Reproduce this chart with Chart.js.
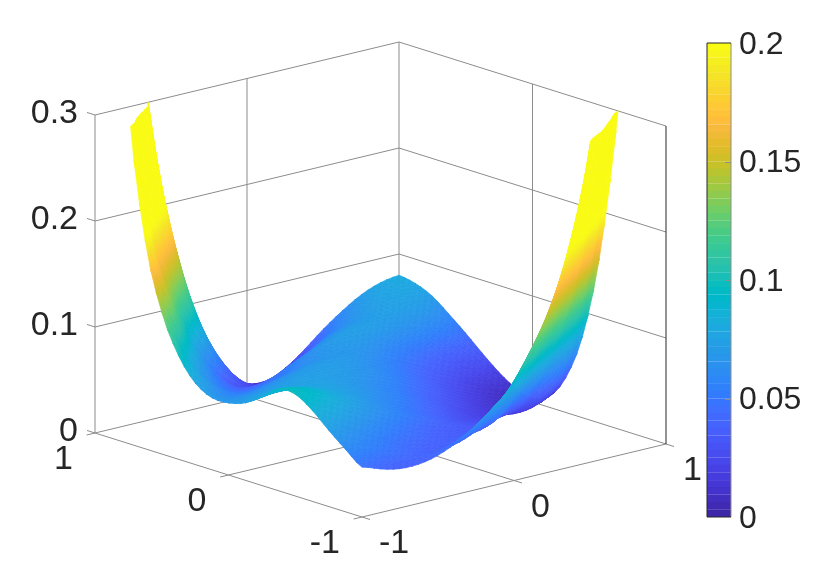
<!DOCTYPE html>
<html>
<head>
<meta charset="utf-8">
<title>Surface</title>
<script src="https://cdn.jsdelivr.net/npm/chart.js@4"></script>
<style>
  html, body { margin: 0; background: #fff; }
  #wrap { position: relative; width: 830px; height: 581px; overflow: hidden; }
  canvas { position: absolute; top: 0; }
</style>
</head>
<body>
<div id="wrap">
  <canvas id="surface" width="830" height="581" style="left:0"></canvas>
  <canvas id="colorbar" width="130" height="581" style="left:700px"></canvas>
</div>
<script>
// ================= Data =================
const xGrid = [-1,-.875,-.75,-.625,-.5,-.375,-.25,-.125,0,.125,.25,.375,.5,.625,.75,.875,1];
const yGrid = [-1,-.875,-.75,-.625,-.5,-.375,-.25,-.125,0,.125,.25,.375,.5,.625,.75,.875,1];
// one row per yGrid value, one column per xGrid value
const zRows = [
  [.047,.041,.037,.037,.041,.049,.060,.075,.092,.122,.159,.213,.295,.42,.55,.75,.95],
  [.059,.054,.049,.044,.039,.037,.040,.048,.062,.080,.102,.139,.187,.262,.355,.48,.62],
  [.072,.065,.058,.051,.045,.040,.037,.036,.038,.046,.065,.086,.116,.155,.227,.32,.45],
  [.086,.079,.071,.063,.055,.048,.041,.036,.033,.034,.039,.051,.067,.093,.132,.187,.28],
  [.096,.091,.083,.074,.066,.058,.050,.043,.036,.030,.027,.029,.036,.051,.070,.103,.155],
  [.096,.093,.087,.079,.072,.064,.056,.048,.040,.032,.025,.021,.021,.021,.028,.046,.077],
  [.084,.085,.083,.079,.074,.069,.062,.055,.047,.038,.029,.021,.016,.013,.013,.018,.033],
  [.073,.076,.077,.076,.074,.071,.066,.060,.053,.044,.035,.027,.019,.012,.008,.006,.010],
  [.068,.069,.071,.072,.073,.072,.070,.066,.060,.052,.043,.034,.025,.017,.010,.005,.003],
  [.068,.063,.063,.066,.069,.071,.071,.069,.065,.058,.050,.041,.032,.024,.016,.010,.008],
  [.077,.064,.056,.056,.060,.064,.068,.069,.068,.064,.057,.049,.041,.033,.026,.021,.018],
  [.098,.077,.060,.049,.049,.052,.057,.063,.067,.068,.066,.059,.052,.045,.038,.034,.031],
  [.134,.098,.070,.053,.042,.043,.048,.056,.064,.070,.072,.071,.067,.063,.058,.052,.045],
  [.197,.153,.103,.068,.047,.035,.033,.040,.048,.058,.066,.070,.071,.071,.070,.066,.058],
  [.32,.215,.155,.098,.062,.040,.027,.023,.029,.038,.051,.060,.067,.072,.074,.074,.070],
  [.55,.37,.25,.17,.112,.072,.042,.022,.016,.022,.033,.046,.058,.068,.074,.077,.077],
  [.90,.62,.42,.27,.172,.101,.054,.025,.012,.0105,.018,.031,.046,.059,.070,.077,.080]
];
const xTicks = [-1, 0, 1];
const xTickLabels = ['-1', '0', '1'];
const yTicks = [-1, 0, 1];
const yTickLabels = ['-1', '0', '1'];
const zTicks = [0, 0.1, 0.2, 0.3];
const zTickLabels = ['0', '0.1', '0.2', '0.3'];
const cbarTicks = [0, 0.05, 0.1, 0.15, 0.2];
const cbarTickLabels = ['0', '0.05', '0.1', '0.15', '0.2'];
const cLim = [0, 0.2];
const zLim = [0, 0.3];
const parula = [
  '#3e26a8','#402ab4','#422fbf','#4332cb','#4537d5','#463cde','#4741e5','#4747eb',
  '#484df0','#4752f4','#4758f8','#465efb','#4563fd','#4269fe','#3e6fff','#3875fe',
  '#327bfc','#2f81fa','#2d87f7','#2d8cf3','#2b91ef','#2796eb','#259be8','#23a0e5',
  '#20a5e2','#1ca9df','#18addb','#12b1d6','#08b5d0','#01b8ca','#02bac3','#0bbdbc',
  '#19bfb6','#24c1ae','#2cc3a7','#31c69f','#37c897','#3fca8e','#4acb84','#57cc7a',
  '#64cd6f','#71cd64','#81cc59','#8fcb4e','#9dc943','#abc739','#b9c431','#c5c22a',
  '#d1bf27','#dcbd29','#e6bb2d','#efba36','#f8ba3d','#febe3c','#fec338','#fec934',
  '#fccf30','#f9d62d','#f7dc2a','#f5e327','#f5e924','#f6ef20','#f7f51b','#f9fb14'
];

// ================= View =================
// orthographic view: plot units -> x scale / z scale values
const view = { x0: 380.5, xx: 152, xy: -133.5, zx: 36.5 / 1060, zy: 42 / 1060, z0: -5.5 / 1060 };
const ink = '#262626', grey = '#8c8c8c';
const tickFont = { family: '"Liberation Sans", Helvetica, Arial, sans-serif', size: 34 };
const barFont = { family: '"Liberation Sans", Helvetica, Arial, sans-serif', size: 32 };

const projX = p => view.x0 + view.xx * p.x + view.xy * p.y;
const projV = p => p.z + view.zx * p.x + view.zy * p.y + view.z0;
const toPoint = p => ({ x: projX(p), y: projV(p) });

function hexRgb(h) {
  return [1, 3, 5].map(i => parseInt(h.substr(i, 2), 16));
}
const parulaRgb = parula.map(hexRgb);

function colorOf(z) {
  const t = Math.min(1, Math.max(0, (z - cLim[0]) / (cLim[1] - cLim[0]))) * (parulaRgb.length - 1);
  const i = Math.min(parulaRgb.length - 2, Math.floor(t));
  const f = t - i;
  const c = parulaRgb[i].map((v, k) => Math.round(v + (parulaRgb[i + 1][k] - v) * f));
  return `rgb(${c[0]},${c[1]},${c[2]})`;
}

// ================= Surface shading =================
// smooth the mesh between the read values, like shading interp does
function cubic(a, b, c, d, t) {
  return b + 0.5 * t * (c - a + t * (2 * a - 5 * b + 4 * c - d + t * (3 * (b - c) + d - a)));
}
function cell(r, c) {
  const rr = Math.max(0, Math.min(zRows.length - 1, r));
  const cc = Math.max(0, Math.min(zRows[0].length - 1, c));
  return zRows[rr][cc];
}
function rowAt(r, c, u) {
  return cubic(cell(r, c - 1), cell(r, c), cell(r, c + 1), cell(r, c + 2), u);
}
function surfaceAt(c, r, u, v) {
  return {
    x: xGrid[c] + (xGrid[c + 1] - xGrid[c]) * u,
    y: yGrid[r] + (yGrid[r + 1] - yGrid[r]) * v,
    z: cubic(rowAt(r - 1, c, u), rowAt(r, c, u), rowAt(r + 1, c, u), rowAt(r + 2, c, u), v)
  };
}

// cut a polygon at the top of the box
function clipTop(poly) {
  const out = [];
  poly.forEach((p, i) => {
    const q = poly[(i + 1) % poly.length];
    if (p.z <= zLim[1]) out.push(p);
    if ((p.z - zLim[1]) * (q.z - zLim[1]) < 0) {
      const t = (zLim[1] - p.z) / (q.z - p.z);
      out.push({ x: p.x + (q.x - p.x) * t, y: p.y + (q.y - p.y) * t, z: zLim[1] });
    }
  });
  return out;
}

// a triangle is flat, so a linear gradient gives its colours exactly
function shade(chart, tri) {
  const zs = tri.map(p => p.z);
  const lo = Math.min(...zs), hi = Math.max(...zs);
  const mean = zs.reduce((a, b) => a + b, 0) / zs.length;
  if (tri.length !== 3 || lo >= cLim[1] || hi - lo < 0.0003) return colorOf(mean);
  const sx = chart.scales.x, sy = chart.scales.y;
  const px = tri.map(p => [sx.getPixelForValue(projX(p)), sy.getPixelForValue(projV(p))]);
  const e1 = [px[1][0] - px[0][0], px[1][1] - px[0][1]], d1 = zs[1] - zs[0];
  const e2 = [px[2][0] - px[0][0], px[2][1] - px[0][1]], d2 = zs[2] - zs[0];
  const det = e1[0] * e2[1] - e1[1] * e2[0];
  if (Math.abs(det) < 0.05) return colorOf(mean);
  const gx = (d1 * e2[1] - d2 * e1[1]) / det;
  const gy = (e1[0] * d2 - e2[0] * d1) / det;
  const n = gx * gx + gy * gy;
  const start = px[zs.indexOf(lo)];
  const span = hi - lo;
  const g = chart.ctx.createLinearGradient(start[0], start[1], start[0] + gx * span / n, start[1] + gy * span / n);
  const stops = Math.min(8, Math.ceil(span / 0.003) + 1);
  for (let i = 0; i <= stops; i++) g.addColorStop(i / stops, colorOf(lo + span * i / stops));
  return g;
}

function polyDataset(poly) {
  let paint = null;
  // options are first read before the scales have a size
  const fillOf = ctx => {
    if (!ctx.chart.chartArea) return colorOf(poly[0].z);
    if (!paint) paint = shade(ctx.chart, poly);
    return paint;
  };
  return {
    data: poly.concat([poly[0]]).map(toPoint),
    showLine: true,
    fill: 'shape',
    backgroundColor: fillOf,
    borderColor: fillOf,
    borderWidth: 0.7,
    pointRadius: 0,
    tension: 0
  };
}

function edge(a, b, color, width) {
  return {
    data: [toPoint(a), toPoint(b)],
    showLine: true,
    fill: false,
    borderColor: color,
    borderWidth: width || 1,
    pointRadius: 0,
    tension: 0
  };
}

// ================= Datasets, far to near =================
function boxLines() {
  const lines = [];
  const [zMin, zMax] = zLim;
  lines.push(edge({x:-1,y:1,z:zMin}, {x:1,y:1,z:zMin}, grey));
  lines.push(edge({x:1,y:1,z:zMin}, {x:1,y:-1,z:zMin}, grey));
  lines.push(edge({x:-1,y:1,z:zMin}, {x:-1,y:-1,z:zMin}, grey));
  lines.push(edge({x:-1,y:-1,z:zMin}, {x:1,y:-1,z:zMin}, grey));
  xTicks.forEach(t => {
    if (Math.abs(t) < 1) {
      lines.push(edge({x:t,y:-1,z:zMin}, {x:t,y:1,z:zMin}, grey));
      lines.push(edge({x:t,y:1,z:zMin}, {x:t,y:1,z:zMax}, grey));
    }
    lines.push(edge({x:t,y:-1,z:zMin}, {x:t,y:-1.06,z:zMin}, grey));
  });
  yTicks.forEach(t => {
    if (Math.abs(t) < 1) {
      lines.push(edge({x:-1,y:t,z:zMin}, {x:1,y:t,z:zMin}, grey));
      lines.push(edge({x:1,y:t,z:zMin}, {x:1,y:t,z:zMax}, grey));
    }
    lines.push(edge({x:-1,y:t,z:zMin}, {x:-1.055,y:t,z:zMin}, grey));
  });
  zTicks.forEach(z => {
    if (z > zMin) {
      lines.push(edge({x:-1,y:1,z}, {x:1,y:1,z}, grey));
      lines.push(edge({x:1,y:1,z}, {x:1,y:-1,z}, grey));
    }
    lines.push(edge({x:-1,y:1.06,z}, {x:-1,y:1,z}, grey));
  });
  lines.push(edge({x:-1,y:1,z:zMin}, {x:-1,y:1,z:zMax}, grey));
  lines.push(edge({x:1,y:1,z:zMin}, {x:1,y:1,z:zMax}, grey));
  lines.push(edge({x:1,y:-1,z:zMin}, {x:1,y:-1,z:zMax}, ink));
  return lines;
}

function surfacePolys() {
  const steps = 3;
  const polys = [];
  const addTri = (a, b, c) => {
    const poly = clipTop([a, b, c]);
    if (poly.length >= 3) polys.push(polyDataset(poly));
  };
  for (let c = xGrid.length - 2; c >= 0; c--) {
    for (let r = yGrid.length - 2; r >= 0; r--) {
      for (let a = steps - 1; a >= 0; a--) {
        for (let b = steps - 1; b >= 0; b--) {
          const p00 = surfaceAt(c, r, a / steps, b / steps);
          const p10 = surfaceAt(c, r, (a + 1) / steps, b / steps);
          const p11 = surfaceAt(c, r, (a + 1) / steps, (b + 1) / steps);
          const p01 = surfaceAt(c, r, a / steps, (b + 1) / steps);
          addTri(p11, p10, p01);
          addTri(p10, p00, p01);
        }
      }
    }
  }
  return polys;
}

// Chart.js paints the first dataset last
const surfaceDatasets = boxLines().concat(surfacePolys()).reverse();

const floorLabels = {
  id: 'floorLabels',
  afterDraw(chart) {
    const { ctx, scales } = chart;
    const put = (p, text, dx, dy) => {
      ctx.fillText(text, scales.x.getPixelForValue(projX(p)) + dx, scales.y.getPixelForValue(projV(p)) + dy);
    };
    ctx.save();
    ctx.font = `${tickFont.size}px ${tickFont.family}`;
    ctx.fillStyle = ink;
    ctx.textBaseline = 'middle';
    ctx.textAlign = 'right';
    yTicks.forEach((t, i) => put({ x: -1, y: t, z: 0 }, yTickLabels[i], -22, 27));
    ctx.textAlign = 'left';
    xTicks.forEach((t, i) => put({ x: t, y: -1, z: 0 }, xTickLabels[i], 17, 27));
    ctx.restore();
  }
};

// ================= Charts =================
new Chart(document.getElementById('surface'), {
  type: 'scatter',
  data: { datasets: surfaceDatasets },
  plugins: [floorLabels],
  options: {
    responsive: false,
    animation: false,
    events: [],
    layout: { padding: 0, autoPadding: false },
    plugins: { legend: { display: false }, tooltip: { enabled: false } },
    scales: {
      x: { type: 'linear', min: 0, max: 830, display: false },
      y: {
        type: 'linear',
        min: -148 / 1060,
        max: 433 / 1060,
        position: { x: 78 },
        border: { display: false },
        grid: { display: false },
        afterBuildTicks: s => { s.ticks = zTicks.map(value => ({ value })); },
        // the axis stands inside the plot, it must not shrink it
        afterFit: s => { s.paddingTop = 0; s.paddingBottom = 0; s.paddingLeft = 0; s.paddingRight = 0; },
        ticks: {
          font: tickFont,
          color: ink,
          labelOffset: -1,
          callback: (v, i) => zTickLabels[i]
        }
      }
    }
  }
});

const cbarFrame = {
  id: 'cbarFrame',
  afterDraw(chart) {
    const { ctx, chartArea: a, scales } = chart;
    ctx.save();
    ctx.lineWidth = 1;
    ctx.strokeStyle = grey;
    cbarTicks.slice(1, -1).forEach(t => {
      const y = Math.round(scales.y.getPixelForValue(t)) + 0.5;
      ctx.beginPath();
      ctx.moveTo(a.right - 6, y);
      ctx.lineTo(a.right, y);
      ctx.stroke();
    });
    ctx.beginPath();
    ctx.moveTo(a.right, a.top);
    ctx.lineTo(a.right, a.bottom);
    ctx.stroke();
    ctx.strokeStyle = ink;
    ctx.beginPath();
    ctx.moveTo(a.right, a.top);
    ctx.lineTo(a.left, a.top);
    ctx.lineTo(a.left, a.bottom);
    ctx.lineTo(a.right, a.bottom);
    ctx.stroke();
    ctx.restore();
  }
};

new Chart(document.getElementById('colorbar'), {
  type: 'bar',
  data: {
    labels: [''],
    datasets: parula.map((color, i) => ({
      data: [[cLim[0] + (cLim[1] - cLim[0]) * i / parula.length, cLim[0] + (cLim[1] - cLim[0]) * (i + 1) / parula.length]],
      backgroundColor: color,
      borderColor: color,
      borderWidth: 0.5,
      barPercentage: 1,
      categoryPercentage: 1,
      grouped: false
    }))
  },
  plugins: [cbarFrame],
  options: {
    responsive: false,
    animation: false,
    events: [],
    layout: { padding: { left: 7, top: 43, bottom: 64 }, autoPadding: false },
    plugins: { legend: { display: false }, tooltip: { enabled: false } },
    scales: {
      x: { display: false },
      y: {
        position: 'right',
        min: cLim[0],
        max: cLim[1],
        border: { display: false },
        grid: { display: false },
        afterBuildTicks: s => { s.ticks = cbarTicks.map(value => ({ value })); },
        afterFit: s => { s.width = 99; },
        ticks: {
          font: barFont,
          color: ink,
          padding: 0,
          labelOffset: 2,
          callback: (v, i) => cbarTickLabels[i]
        }
      }
    }
  }
});
</script>
</body>
</html>
